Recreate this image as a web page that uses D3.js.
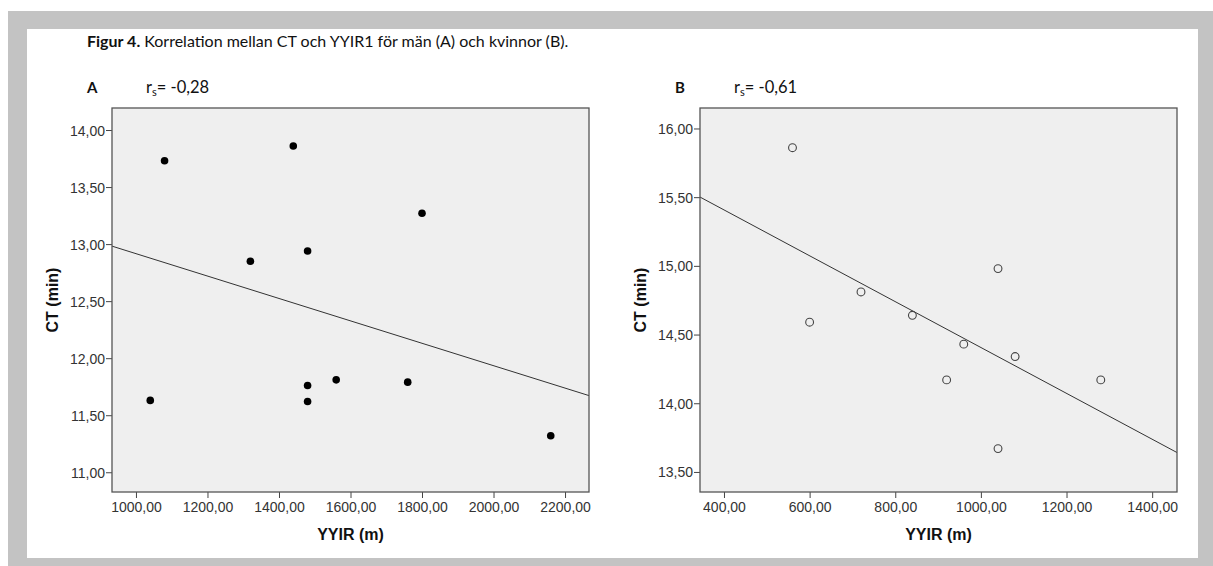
<!DOCTYPE html>
<html>
<head>
<meta charset="utf-8">
<script src="https://cdn.jsdelivr.net/npm/d3@7"></script>
<style>
  body { margin: 0; background: #fff; }
  svg { display: block; }
</style>
</head>
<body>
<script>
// Men (A)
var menYYIR = [1080, 1440, 1800, 1320, 1480, 1040, 1480, 1480, 1560, 1760, 2160]
var menCT = [13.73, 13.86, 13.27, 12.85, 12.94, 11.63, 11.76, 11.62, 11.81, 11.79, 11.32]
var menXTicks = [1000, 1200, 1400, 1600, 1800, 2000, 2200]
var menYTicks = [11, 11.5, 12, 12.5, 13, 13.5, 14]

// Women (B)
var womenYYIR = [560, 600, 720, 840, 1040, 960, 1080, 920, 1280, 1040]
var womenCT = [15.86, 14.59, 14.81, 14.64, 14.98, 14.43, 14.34, 14.17, 14.17, 13.67]
var womenXTicks = [400, 600, 800, 1000, 1200, 1400]
var womenYTicks = [13.5, 14, 14.5, 15, 15.5, 16]

var width = 1213, height = 566
var fmt = function(v) { return d3.format(".2f")(v).replace(".", ","); }

var svg = d3.select("body").append("svg")
    .attr("width", width)
    .attr("height", height)

// grey border + white page
svg.append("rect").attr("x", 8).attr("y", 11).attr("width", width - 8).attr("height", height - 11).attr("fill", "#c3c3c3")
svg.append("rect").attr("x", 27).attr("y", 29).attr("width", 1171).attr("height", 529).attr("fill", "#fff")

// figure caption
var cap = svg.append("text")
    .attr("x", 87).attr("y", 47)
    .style("font-family", "Lato, 'Open Sans', sans-serif")
    .style("font-size", "16px")
    .attr("fill", "#111")
cap.append("tspan").style("font-weight", "bold").text("Figur 4.")
cap.append("tspan").text(" Korrelation mellan CT och YYIR1 för män (A) och kvinnor (B).")

// simple least squares fit line
function fit(xs, ys) {
    var mx = d3.mean(xs), my = d3.mean(ys)
    var sxy = d3.sum(xs, (x, i) => (x - mx) * (ys[i] - my))
    var sxx = d3.sum(xs, x => (x - mx) * (x - mx))
    var b = sxy / sxx
    return function(x) { return my + b * (x - mx); }
}

function drawPanel(opt) {
    var left = opt.left, right = opt.left + 477, top = 108, bottom = 492

    var x = d3.scaleLinear().domain(opt.xDomain).range([left, right])
    var y = d3.scaleLinear().domain(opt.yDomain).range([bottom, top])

    // panel letter and r_s
    svg.append("text")
        .attr("x", left - 25).attr("y", 93)
        .style("font-family", "Lato, 'Open Sans', sans-serif")
        .style("font-size", "15px").style("font-weight", "bold")
        .attr("fill", "#111")
        .text(opt.letter)
    var rs = svg.append("text")
        .attr("x", left + 34).attr("y", 93)
        .style("font-family", "Lato, 'Open Sans', sans-serif")
        .style("font-size", "16.5px")
        .attr("fill", "#111")
    rs.append("tspan").text("r")
    rs.append("tspan").attr("dy", 3).style("font-size", "11px").text("s")
    rs.append("tspan").attr("dy", -3).text("= " + opt.rs)

    // plot area
    svg.append("rect")
        .attr("x", left).attr("y", top)
        .attr("width", right - left).attr("height", bottom - top)
        .attr("fill", "#efefef")

    var g = svg.append("g")

    // axes
    var xAxis = g.append("g")
        .attr("transform", "translate(0," + bottom + ")")
        .call(d3.axisBottom(x).tickValues(opt.xTicks).tickFormat(fmt).tickSize(6).tickSizeOuter(0).tickPadding(4))
    var yAxis = g.append("g")
        .attr("transform", "translate(" + left + ",0)")
        .call(d3.axisLeft(y).tickValues(opt.yTicks).tickFormat(fmt).tickSize(6).tickSizeOuter(0).tickPadding(1))
    g.selectAll(".domain").remove()
    g.selectAll(".tick line").attr("stroke", "#444")
    g.selectAll(".tick text")
        .attr("fill", "#333")
        .style("font-family", "Arial, 'Liberation Sans', sans-serif")
        .style("font-size", "14px")
    yAxis.selectAll(".tick text").attr("dy", "0.36em")

    // regression line
    var f = fit(opt.xs, opt.ys)
    g.append("line")
        .attr("x1", x(opt.xDomain[0])).attr("y1", y(f(opt.xDomain[0])))
        .attr("x2", x(opt.xDomain[1])).attr("y2", y(f(opt.xDomain[1])))
        .attr("stroke", "#333").attr("stroke-width", 1)

    // points
    g.selectAll("circle.pt")
        .data(opt.xs.map((v, i) => [v, opt.ys[i]]))
        .join("circle")
        .attr("class", "pt")
        .attr("cx", d => x(d[0]))
        .attr("cy", d => y(d[1]))
        .attr("r", opt.filled ? 3.8 : 3.9)
        .attr("fill", opt.filled ? "#000" : "none")
        .attr("stroke", opt.filled ? "none" : "#444")
        .attr("stroke-width", 1.1)

    // frame
    svg.append("rect")
        .attr("x", left).attr("y", top)
        .attr("width", right - left).attr("height", bottom - top)
        .attr("fill", "none").attr("stroke", "#555").attr("stroke-width", 1.3)

    // axis titles
    svg.append("text")
        .attr("x", (left + right) / 2).attr("y", 540)
        .attr("text-anchor", "middle")
        .style("font-family", "Arial, 'Liberation Sans', sans-serif")
        .style("font-size", "16px").style("font-weight", "bold")
        .attr("fill", "#111")
        .text("YYIR (m)")
    svg.append("text")
        .attr("transform", "translate(" + (left - 54) + "," + ((top + bottom) / 2) + ") rotate(-90)")
        .attr("text-anchor", "middle")
        .style("font-family", "Arial, 'Liberation Sans', sans-serif")
        .style("font-size", "16px").style("font-weight", "bold")
        .attr("fill", "#111")
        .text("CT (min)")
}

drawPanel({
    left: 112, letter: "A", rs: "-0,28",
    xDomain: [933, 2267], yDomain: [10.827, 14.193],
    xTicks: menXTicks, yTicks: menYTicks,
    xs: menYYIR, ys: menCT, filled: true
})

drawPanel({
    left: 700, letter: "B", rs: "-0,61",
    xDomain: [344, 1458], yDomain: [13.354, 16.149],
    xTicks: womenXTicks, yTicks: womenYTicks,
    xs: womenYYIR, ys: womenCT, filled: false
})
</script>
</body>
</html>
